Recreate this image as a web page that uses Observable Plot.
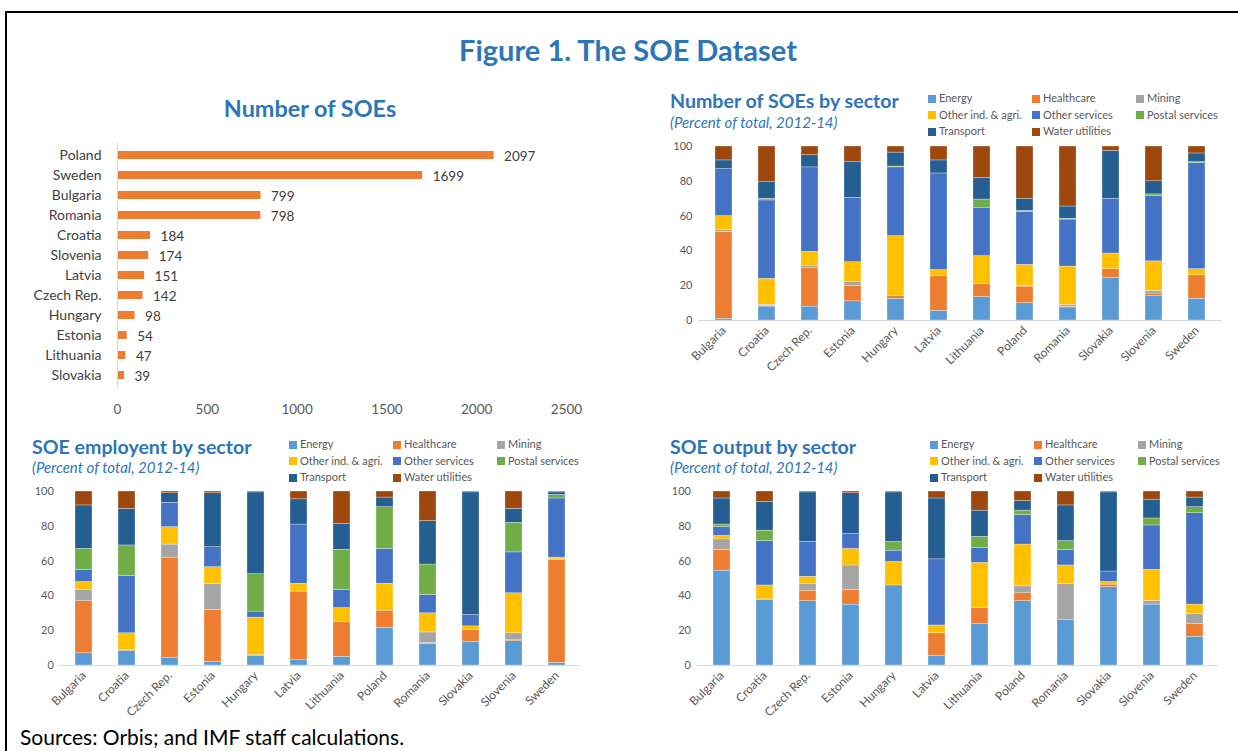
<!DOCTYPE html>
<html>
<head>
<meta charset="utf-8">
<script src="https://cdn.jsdelivr.net/npm/d3@7"></script>
<script src="https://cdn.jsdelivr.net/npm/@observablehq/plot@0.6"></script>
<style>
  body { margin: 0; background: #fff; }
  #root { position: relative; width: 1238px; height: 751px; overflow: hidden; background: #fff; font-family: Lato, "Open Sans", sans-serif; }
  .abs { position: absolute; }
  .frame { position: absolute; left: 5px; top: 11px; width: 1400px; height: 900px; border-top: 2px solid #000; border-left: 2px solid #000; }
  .ttl { color: #2E75B6; font-weight: bold; line-height: 1; white-space: nowrap; }
  .sub { color: #2E75B6; font-style: italic; line-height: 1; white-space: nowrap; }
  .legend { position: absolute; display: grid; grid-template-columns: 104px 104px 104px; row-gap: 4px; font-size: 11px; color: #595959; line-height: 12.5px; }
  .legend span.sw { display: inline-block; width: 8px; height: 8px; margin-right: 3px; vertical-align: -0.5px; }
  .legend div { white-space: nowrap; }
</style>
</head>
<body>
<div id="root">
  <div class="frame"></div>
  <div class="abs ttl" style="left:0;width:1256px;text-align:center;top:35px;font-size:29px;">Figure 1. The SOE Dataset</div>
  <div class="abs ttl" style="left:0;width:620px;text-align:center;top:97px;font-size:23.4px;">Number of SOEs</div>
  <div class="abs ttl" style="left:670px;top:91px;font-size:19.6px;">Number of SOEs by sector</div>
  <div class="abs sub" style="left:670px;top:115px;font-size:15px;">(Percent of total, 2012-14)</div>
  <div class="abs ttl" style="left:32px;top:437px;font-size:19.6px;">SOE employent by sector</div>
  <div class="abs sub" style="left:32px;top:460px;font-size:15px;">(Percent of total, 2012-14)</div>
  <div class="abs ttl" style="left:670px;top:437px;font-size:19.6px;">SOE output by sector</div>
  <div class="abs sub" style="left:670px;top:460px;font-size:15px;">(Percent of total, 2012-14)</div>
  <div id="legTR" class="legend" style="left:928px;top:92px;"></div>
  <div id="legBL" class="legend" style="left:289px;top:438px;"></div>
  <div id="legBR" class="legend" style="left:930px;top:438px;"></div>
  <div id="bar" class="abs" style="left:0;top:138.5px;"></div>
  <div id="tr" class="abs" style="left:660px;top:136px;"></div>
  <div id="bl" class="abs" style="left:0;top:481px;"></div>
  <div id="br" class="abs" style="left:640px;top:481px;"></div>
  <div class="abs" style="left:20px;top:726px;font-size:21px;color:#000;line-height:1;white-space:nowrap;">Sources: Orbis; and IMF staff calculations.</div>
</div>
<script>
// ---------- Data ----------
const barCountries = ["Poland", "Sweden", "Bulgaria", "Romania", "Croatia", "Slovenia", "Latvia", "Czech Rep.", "Hungary", "Estonia", "Lithuania", "Slovakia"];
const barValues = [2097, 1699, 799, 798, 184, 174, 151, 142, 98, 54, 47, 39];
const barTicks = [0, 500, 1000, 1500, 2000, 2500];

const countries = ["Bulgaria", "Croatia", "Czech Rep.", "Estonia", "Hungary", "Latvia", "Lithuania", "Poland", "Romania", "Slovakia", "Slovenia", "Sweden"];
const sectors = ["Energy", "Healthcare", "Mining", "Other ind. & agri.", "Other services", "Postal services", "Transport", "Water utilities"];
const sectorColors = ["#5B9BD5", "#ED7D31", "#A5A5A5", "#FFC000", "#4472C4", "#70AD47", "#255E91", "#9E480E"];
const pctTicks = [0, 20, 40, 60, 80, 100];

// Number of SOEs by sector (percent of total)
const numEnergy    = [1, 8, 8, 11, 12.5, 5.5, 13.5, 10, 7.5, 24.5, 14, 12.5];
const numHealth    = [50, 0.5, 22, 9, 1.5, 20, 7.5, 9.5, 0.5, 5, 1.5, 13.5];
const numMining    = [1, 0.5, 1.5, 2, 0, 0, 0, 0.5, 1, 0, 1.5, 0];
const numOtherInd  = [8, 15, 8, 11.5, 34.5, 3.5, 16, 12, 22, 9, 17, 3.5];
const numOtherServ = [27, 45, 48.5, 37, 39.5, 55.5, 27.5, 30.5, 27, 31.5, 37.5, 61];
const numPostal    = [0, 1, 0, 0, 0.5, 0, 5, 0.5, 0.5, 0, 1, 0.5];
const numTransport = [5, 9.5, 7, 20.5, 8, 7.5, 12.5, 7, 7, 27.5, 7.5, 5];
const numWater     = [8, 20.5, 5, 9, 3.5, 8, 18, 30, 34.5, 2.5, 20, 4];

// SOE employment by sector (percent of total)
const empEnergy    = [7, 8.5, 4.5, 2, 5.5, 3, 5, 21.5, 12.5, 13.5, 14, 1.5];
const empHealth    = [30, 0.5, 57.5, 30, 0.5, 39.5, 20, 10, 0.5, 7, 0.5, 59];
const empMining    = [6.5, 0, 7.5, 15, 0, 0, 0, 0, 6, 0, 4, 0.5];
const empOtherInd  = [4.5, 9.5, 10, 9.5, 21.5, 4.5, 8, 15.5, 11, 2, 23, 1];
const empOtherServ = [7, 33, 14, 11.5, 3.5, 34, 10.5, 20, 10.5, 6.5, 23.5, 34];
const empPostal    = [12, 17.5, 0, 0, 21.5, 0, 23, 24, 17.5, 0, 17, 2];
const empTransport = [25, 21, 5.5, 31, 47, 14.5, 15, 5.5, 25, 70.5, 8, 1.5];
const empWater     = [8, 10, 1, 1, 0.5, 4.5, 18.5, 3.5, 17, 0.5, 10, 0.5];

// SOE output by sector (percent of total)
const outEnergy    = [54.5, 37.5, 37, 35, 46, 5.5, 24, 37, 26, 45, 35, 16.5];
const outHealth    = [12, 0.5, 6, 8.5, 0, 13, 9, 4.5, 0, 1.5, 0, 7.5];
const outMining    = [6, 0, 4, 14, 0, 0, 0, 4, 21, 0, 2, 5.5];
const outOtherInd  = [2, 8, 4, 9.5, 13.5, 4.5, 26, 24, 10.5, 1.5, 18, 5.5];
const outOtherServ = [5, 25.5, 20, 8.5, 6.5, 38, 8.5, 17, 9, 6, 25.5, 52.5];
const outPostal    = [1.5, 6, 0, 0, 5, 0, 6.5, 2.5, 5, 0, 4, 3.5];
const outTransport = [15, 16.5, 28.5, 23.5, 28.5, 35, 15, 5.5, 20.5, 45.5, 10.5, 5.5];
const outWater     = [4, 6, 0.5, 1, 0.5, 4, 11, 5.5, 8, 0.5, 5, 3.5];

// ---------- Drawing ----------
const FONT = 'Lato, "Open Sans", sans-serif';

// Horizontal bar chart: Number of SOEs
{
  const data = barCountries.map((c, i) => ({country: c, value: barValues[i]}));
  const chart = Plot.plot({
    width: 620, height: 285,
    marginLeft: 117, marginRight: 54, marginTop: 3.8, marginBottom: 36.4,
    style: {fontFamily: FONT, color: "#595959", background: "transparent", overflow: "visible"},
    x: {domain: [0, 2500], ticks: barTicks, label: null},
    y: {domain: barCountries, paddingInner: 0.61, paddingOuter: 0.305, label: null},
    marks: [
      Plot.barX(data, {x: "value", y: "country", fill: "#ED7D31"}),
      Plot.ruleX([0], {stroke: "#D9D9D9"}),
      Plot.text(data, {x: "value", y: "country", text: d => String(d.value), dx: 10, dy: 1.5, textAnchor: "start", fontSize: 13.5, fill: "#404040"}),
      Plot.axisY({tickSize: 0, tickPadding: 16, fontSize: 14, fill: "#404040"}),
      Plot.axisX({ticks: barTicks, tickSize: 0, tickPadding: 16, fontSize: 13.5, fill: "#595959", tickFormat: d => String(d)})
    ]
  });
  document.getElementById("bar").appendChild(chart);
}

function stacked(el, rows, cfg) {
  const data = sectors.flatMap((s, i) => countries.map((c, j) => ({country: c, sector: s, value: rows[i][j]})));
  const chart = Plot.plot({
    width: cfg.width, height: 250,
    marginLeft: cfg.marginLeft, marginRight: cfg.marginRight, marginTop: 10, marginBottom: 66,
    style: {fontFamily: FONT, color: "#595959", background: "transparent", overflow: "visible"},
    x: {domain: countries, paddingInner: 0.61, paddingOuter: 0.305, label: null},
    y: {domain: [0, 100], label: null},
    color: {domain: sectors, range: sectorColors},
    marks: [
      Plot.barY(data, Plot.stackY({x: "country", y: "value", fill: "sector", stroke: "#ffffff", strokeWidth: 0.5, strokeOpacity: 0.6})),
      Plot.ruleY([0], {stroke: "#D9D9D9", strokeWidth: 1}),
      Plot.axisY({ticks: pctTicks, tickSize: 0, tickPadding: 6, fontSize: 11, fill: "#595959"}),
      Plot.axisX({tickRotate: -45, tickSize: 0, tickPadding: 8, fontSize: 12, fill: "#595959"})
    ]
  });
  document.getElementById(el).appendChild(chart);
}

stacked("tr", [numEnergy, numHealth, numMining, numOtherInd, numOtherServ, numPostal, numTransport, numWater],
  {width: 578, marginLeft: 38, marginRight: 16});
stacked("bl", [empEnergy, empHealth, empMining, empOtherInd, empOtherServ, empPostal, empTransport, empWater],
  {width: 600, marginLeft: 59.3, marginRight: 19.9});
stacked("br", [outEnergy, outHealth, outMining, outOtherInd, outOtherServ, outPostal, outTransport, outWater],
  {width: 598, marginLeft: 56.5, marginRight: 19.5});

function legend(id) {
  const el = document.getElementById(id);
  sectors.forEach((s, i) => {
    const d = document.createElement("div");
    const sw = document.createElement("span");
    sw.className = "sw";
    sw.style.background = sectorColors[i];
    d.appendChild(sw);
    d.appendChild(document.createTextNode(s));
    el.appendChild(d);
  });
}
legend("legTR"); legend("legBL"); legend("legBR");
</script>
</body>
</html>
